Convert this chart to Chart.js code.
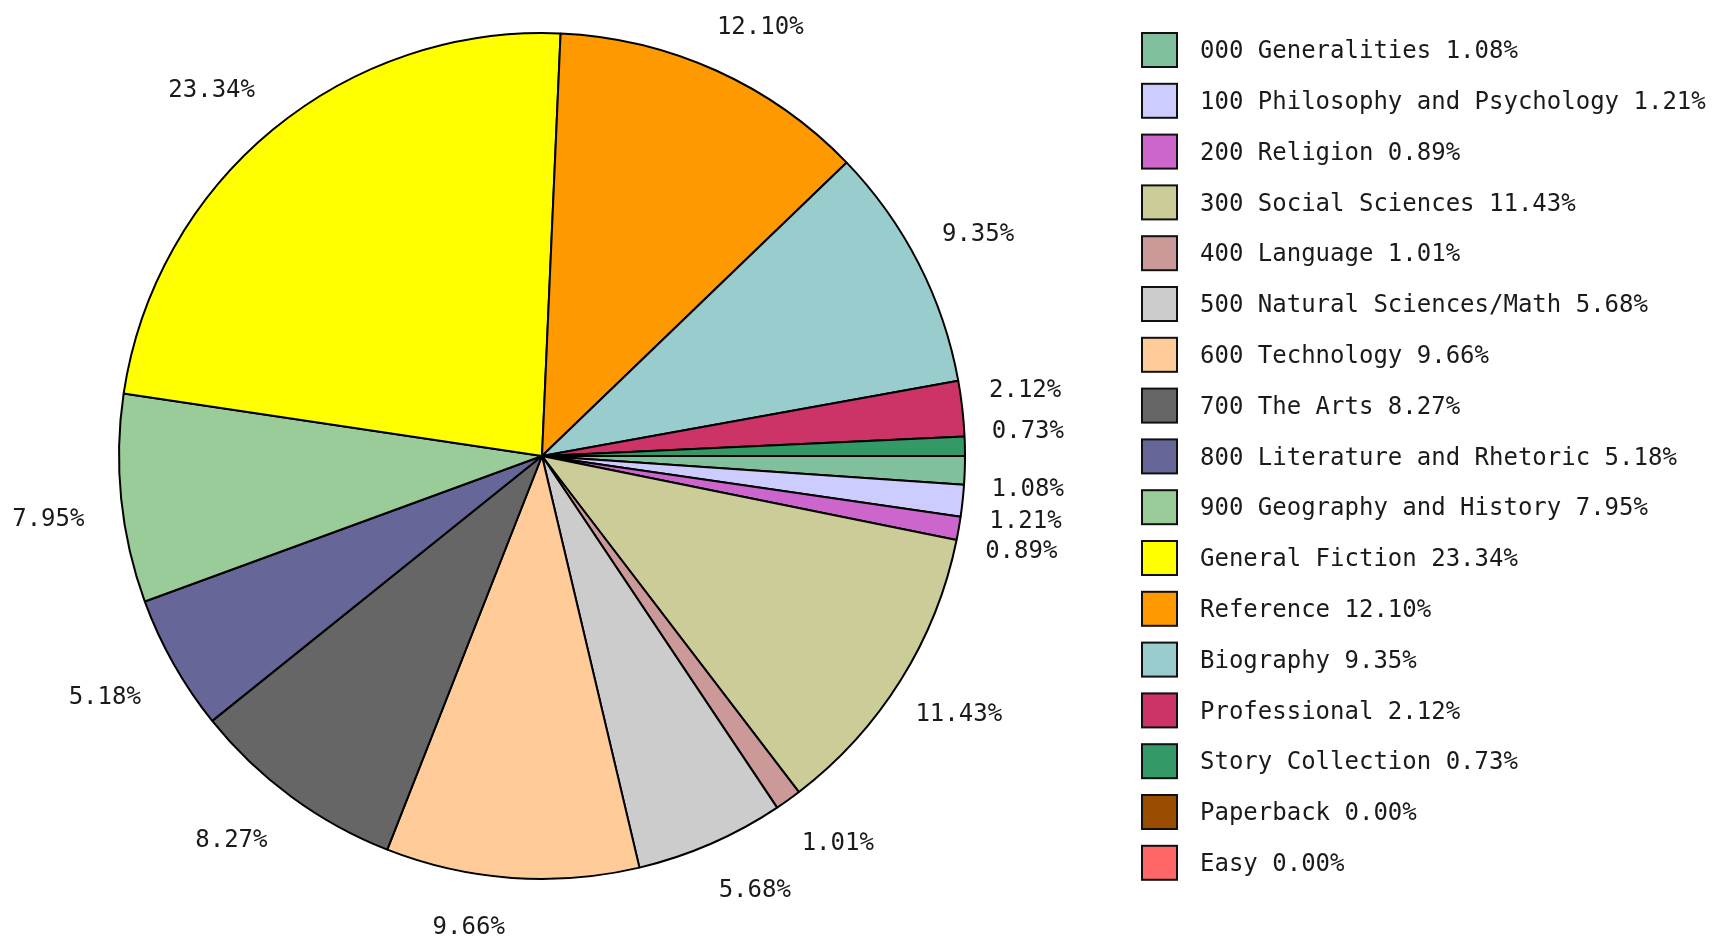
<!DOCTYPE html>
<html>
<head>
<meta charset="utf-8">
<title>Collection by category</title>
<script src="https://cdn.jsdelivr.net/npm/chart.js@4.4.1/dist/chart.umd.min.js"></script>
<style>
  html, body { margin: 0; padding: 0; background: #fff; }
  #wrap { width: 1714px; height: 938px; }
</style>
</head>
<body>
<div id="wrap"><canvas id="pieChart" width="1714" height="938"></canvas></div>
<script>
// categories and their share of the collection (percent)
const categories = [
  "000 Generalities", "100 Philosophy and Psychology", "200 Religion",
  "300 Social Sciences", "400 Language", "500 Natural Sciences/Math",
  "600 Technology", "700 The Arts", "800 Literature and Rhetoric",
  "900 Geography and History", "General Fiction", "Reference",
  "Biography", "Professional", "Story Collection", "Paperback", "Easy"
];
const shares = [1.08, 1.21, 0.89, 11.43, 1.01, 5.68, 9.66, 8.27, 5.18, 7.95, 23.34, 12.10, 9.35, 2.12, 0.73, 0.00, 0.00];
const colors = [
  "#80c09c", "#ccccff", "#cc66cc", "#cccc99", "#cc9999", "#cccccc",
  "#ffcc99", "#666666", "#666699", "#99cc99", "#ffff00", "#ff9900",
  "#99cccc", "#cc3366", "#339966", "#994c00", "#ff6666"
];

const FONT = '24px "DejaVu Sans Mono", "Liberation Mono", monospace';
const pct = v => v.toFixed(2) + "%";

// percent labels: a point just outside the rim on the mid angle,
// then the text box is hung off that point away from the centre
const sliceLabels = {
  id: "sliceLabels",
  afterDatasetsDraw(chart) {
    const ctx = chart.ctx;
    const arcs = chart.getDatasetMeta(0).data;
    ctx.save();
    ctx.font = FONT;
    ctx.fillStyle = "#1a1a1a";
    ctx.textAlign = "center";
    ctx.textBaseline = "middle";
    arcs.forEach((arc, i) => {
      if (!shares[i]) return;
      const p = arc.getProps(["x", "y", "startAngle", "endAngle", "outerRadius"], true);
      const mid = (p.startAngle + p.endAngle) / 2;
      const ux = Math.cos(mid), uy = Math.sin(mid);
      const r = p.outerRadius + 32;
      const tx = p.x + r * ux + (ux >= 0 ? 31 : -41);
      const ty = p.y + r * uy + (uy >= 0 ? 16 : -16) + 2;
      ctx.fillText(pct(shares[i]), tx, ty);
    });
    ctx.restore();
  }
};

const sideLegend = {
  id: "sideLegend",
  afterDraw(chart) {
    const ctx = chart.ctx;
    ctx.save();
    ctx.font = FONT;
    ctx.textBaseline = "middle";
    categories.forEach((c, i) => {
      const cy = 50 + i * 50.8;
      ctx.fillStyle = colors[i];
      ctx.fillRect(1142, cy - 17, 35, 34);
      ctx.strokeStyle = "#111";
      ctx.lineWidth = 2;
      ctx.strokeRect(1142, cy - 17, 35, 34);
      ctx.fillStyle = "#1a1a1a";
      ctx.fillText(c + " " + pct(shares[i]), 1200, cy + 2);
    });
    ctx.restore();
  }
};

new Chart(document.getElementById("pieChart"), {
  type: "pie",
  data: {
    labels: categories,
    datasets: [{
      data: shares,
      backgroundColor: colors,
      borderColor: "#000",
      borderWidth: 2,
      hoverBorderWidth: 2,
      hoverOffset: 0
    }]
  },
  options: {
    responsive: false,
    animation: false,
    rotation: 90,
    layout: { padding: { left: 118, right: 748, top: 32, bottom: 58 } },
    plugins: {
      legend: { display: false },
      tooltip: { enabled: false }
    }
  },
  plugins: [sliceLabels, sideLegend]
});
</script>
</body>
</html>
